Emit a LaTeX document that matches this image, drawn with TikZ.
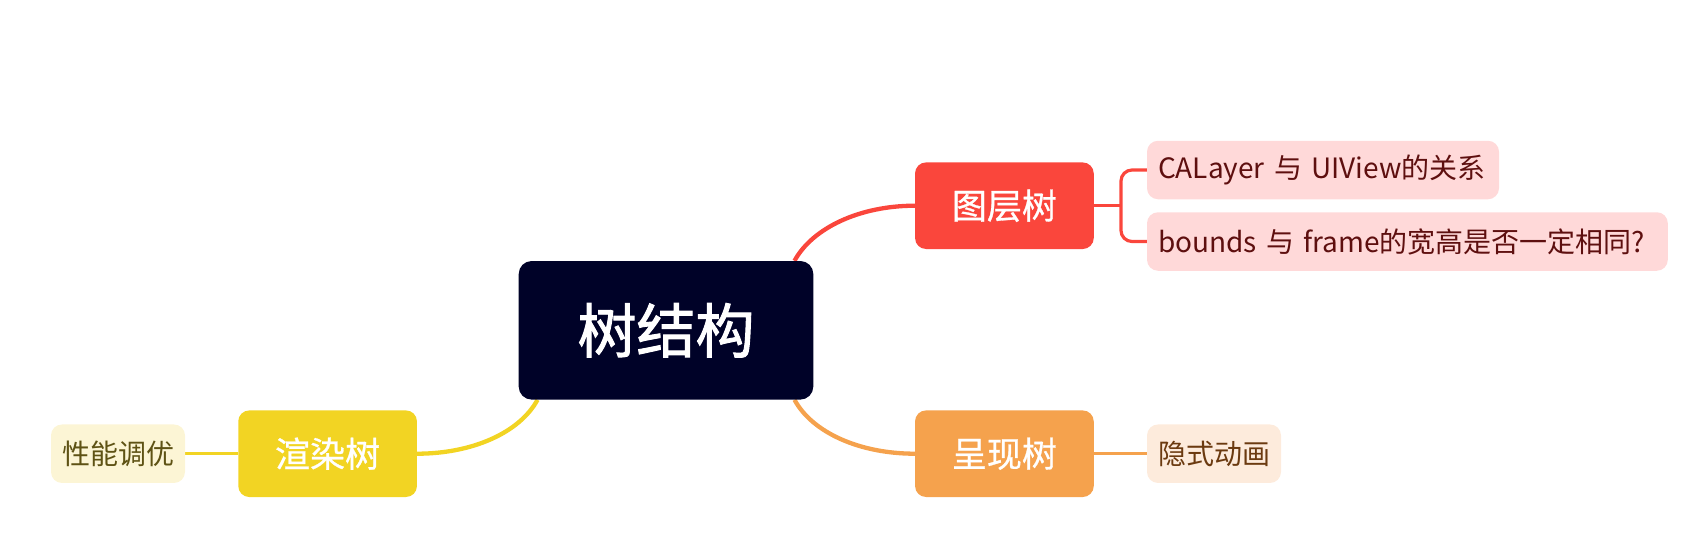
\documentclass[tikz,border=0pt]{standalone}
\usepackage{fontspec}
\setmainfont{Noto Sans CJK SC}
\newfontfamily\rootfont[FakeBold=1.6]{Noto Sans CJK SC}
\newfontfamily\mainfont[FakeBold=0.8]{Noto Sans CJK SC}
\usetikzlibrary{backgrounds}
\definecolor{croot}{HTML}{000228}
\definecolor{cred}{HTML}{FA463C}
\definecolor{corange}{HTML}{F5A24D}
\definecolor{cyellow}{HTML}{F2D423}
\definecolor{lred}{HTML}{FFD9D9}
\definecolor{tred}{HTML}{5E0F0F}
\definecolor{lorange}{HTML}{FDEBDC}
\definecolor{torange}{HTML}{6B3A10}
\definecolor{lyellow}{HTML}{FCF5D5}
\definecolor{tyellow}{HTML}{5E5214}
\tikzset{
  rootbox/.style={fill=croot, text=white, rounded corners=13pt, minimum width=294.6pt, minimum height=138.6pt, inner sep=0pt, font=\rootfont\fontsize{59}{62}\selectfont},
  mainbox/.style={text=white, rounded corners=11pt, minimum width=178.7pt, minimum height=86.6pt, inner sep=0pt, font=\mainfont\fontsize{35}{40}\selectfont},
  leafbox/.style={rounded corners=11pt, minimum height=58.5pt, inner xsep=11pt, inner ysep=0pt, font=\fontsize{28}{30}\selectfont},
  mainline/.style={line width=4.3pt},
  subline/.style={line width=3.2pt}
}
\begin{document}
\begin{tikzpicture}[x=1pt,y=-1pt]
\useasboundingbox (0,0) rectangle (1698,552);
\node[rootbox] (root) at (666,330.3) {树结构};
\node[mainbox, fill=cred] (tc) at (1004.4,205.7) {图层树};
\node[mainbox, fill=corange] (cx) at (1004.4,453.7) {呈现树};
\node[mainbox, fill=cyellow] (xr) at (327.6,453.7) {渲染树};
\node[leafbox, fill=lred, text=tred, anchor=west, text width=330pt, align=left] (l1) at (1146.8,170) {CALayer 与 UIView的关系};
\node[leafbox, fill=lred, text=tred, anchor=west, text width=498.8pt, align=left] (l2) at (1146.8,241.5) {bounds 与 frame的宽高是否一定相同?};
\node[leafbox, fill=lorange, text=torange, anchor=west] (l3) at (1146.8,453.7) {隐式动画};
\node[leafbox, fill=lyellow, text=tyellow, anchor=east] (l4) at (185.2,453.7) {性能调优};
\coordinate (br) at (1121,205.7);
\begin{scope}[on background layer]
\draw[cred, mainline] ([xshift=-19pt]root.north east) .. controls +(18,-33) and +(-55,0) .. (tc.west);
\draw[corange, mainline] ([xshift=-19pt]root.south east) .. controls +(18,33) and +(-55,0) .. (cx.west);
\draw[cyellow, mainline] ([xshift=19pt]root.south west) .. controls +(-18,33) and +(55,0) .. (xr.east);
\draw[cred, subline] (tc.east) -- (br);
\draw[cred, subline, rounded corners=11pt] (l1.west) -| (br) |- (l2.west);
\draw[corange, subline] (cx.east) -- (l3.west);
\draw[cyellow, subline] (xr.west) -- (l4.east);
\end{scope}
\end{tikzpicture}
\end{document}
